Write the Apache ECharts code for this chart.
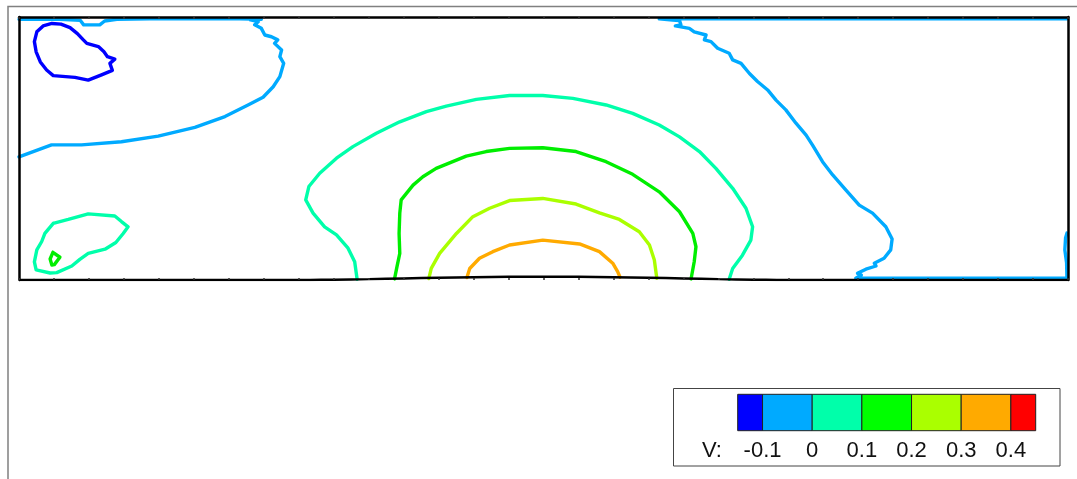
<!DOCTYPE html>
<html>
<head>
<meta charset="utf-8">
<script src="https://cdn.jsdelivr.net/npm/echarts@6/dist/echarts.min.js"></script>
<style>
html,body{margin:0;padding:0;background:#fff;}
#chart{width:1077px;height:479px;}
</style>
</head>
<body>
<div id="chart"></div>
<script>
// ---- data (x along the wall, y normal to it) ----
const levels = [-0.1, 0, 0.1, 0.2, 0.3, 0.4];
const tickLabels = ['-0.1', '0', '0.1', '0.2', '0.3', '0.4'];
const bandEdges = [-0.15, -0.1, 0, 0.1, 0.2, 0.3, 0.4, 0.45];
const bandColors = ['#0000ff', '#00aaff', '#00ffaa', '#00ff00', '#aaff00', '#ffaa00', '#ff0000'];

// wall (bottom boundary with bump)
const wall = [[0,0],[8,0],[9,0.01],[10,0.025],[11,0.045],[12,0.065],[13,0.08],[14,0.09],[15,0.095],[16,0.09],[17,0.08],[18,0.065],[19,0.045],[20,0.025],[21,0.01],[22,0],[30,0]];

// level -0.1 (dark blue loop, upper left)
const cBlueLoop = [[0.51,7.09],[0.69,7.26],[0.94,7.33],[1.20,7.31],[1.46,7.21],[1.67,7.04],[1.84,6.86],[1.94,6.76],[2.27,6.67],[2.43,6.52],[2.53,6.38],[2.74,6.31],[2.60,6.19],[2.67,5.99],[2.36,5.86],[1.98,5.71],[1.60,5.79],[0.98,5.84],[0.79,6.00],[0.61,6.23],[0.49,6.52],[0.44,6.81],[0.51,7.09]];

// level 0 (light blue), left part
const cZeroLeft = [[0,3.52],[0.93,3.86],[1.79,3.86],[2.93,3.95],[3.98,4.11],[5.03,4.36],[5.89,4.67],[6.55,5.00],[6.98,5.22],[7.27,5.52],[7.46,5.81],[7.57,6.19],[7.46,6.38],[7.51,6.57],[7.31,6.76],[7.40,6.86],[7.22,6.95],[7.03,7.00],[6.93,7.19],[6.74,7.29],[6.84,7.38],[6.62,7.43],[6.93,7.45],[6.31,7.46],[4.74,7.46],[3.74,7.46],[2.80,7.45],[2.45,7.40],[2.31,7.29],[1.85,7.29],[1.75,7.42],[1.17,7.45],[0,7.45]];

// level 0 (light blue), right part
const cZeroRight = [[29.97,7.46],[18.31,7.46],[18.69,7.43],[18.89,7.41],[18.93,7.29],[18.77,7.26],[19.17,7.19],[19.31,7.09],[19.65,7.00],[19.60,6.86],[19.79,6.81],[19.98,6.62],[20.31,6.48],[20.41,6.29],[20.65,6.19],[20.89,5.90],[21.12,5.67],[21.41,5.43],[21.65,5.14],[21.93,4.86],[22.22,4.48],[22.51,4.14],[22.69,3.86],[22.98,3.38],[23.27,3.00],[23.65,2.57],[24.03,2.14],[24.41,1.91],[24.79,1.52],[24.97,1.17],[24.93,0.86],[24.74,0.62],[24.46,0.48],[24.51,0.40],[24.22,0.31],[23.98,0.19],[24.09,0.14],[23.93,0.05],[29.97,0.05],[29.96,0.49],[29.91,0.86],[29.93,1.20],[29.97,1.34]];

// level 0.1 (teal)
const cTealArc = [[9.67,0.02],[9.60,0.52],[9.41,0.91],[9.08,1.29],[8.74,1.52],[8.41,1.91],[8.20,2.29],[8.29,2.67],[8.60,3.05],[9.08,3.48],[9.55,3.81],[10.22,4.19],[10.89,4.52],[11.65,4.81],[12.22,4.97],[13.08,5.16],[14.03,5.27],[14.98,5.27],[15.84,5.19],[16.79,5.00],[17.55,4.76],[18.31,4.43],[18.89,4.09],[19.46,3.67],[19.93,3.19],[20.41,2.62],[20.79,2.05],[20.98,1.52],[20.93,1.14],[20.69,0.71],[20.41,0.33],[20.31,0.02]];
const cTealLoop = [[0.98,1.62],[1.41,1.73],[1.98,1.89],[2.74,1.83],[2.93,1.67],[3.12,1.52],[2.98,1.33],[2.77,1.07],[2.46,0.88],[1.98,0.76],[1.74,0.59],[1.51,0.40],[1.08,0.21],[0.89,0.20],[0.49,0.29],[0.44,0.52],[0.51,0.86],[0.65,1.10],[0.74,1.33],[0.98,1.62]];

// level 0.2 (green)
const cGreenArc = [[10.74,0.03],[10.81,0.38],[10.89,0.76],[10.87,1.33],[10.89,1.91],[10.93,2.29],[11.27,2.71],[11.55,2.95],[11.93,3.19],[12.79,3.54],[13.36,3.67],[14.03,3.76],[14.98,3.78],[15.93,3.67],[16.79,3.38],[17.55,3.02],[18.31,2.52],[18.89,1.95],[19.27,1.33],[19.36,0.95],[19.31,0.52],[19.22,0.03]];
const cGreenLoop = [[0.97,0.79],[1.17,0.65],[1.01,0.44],[0.94,0.43],[0.89,0.60],[0.97,0.79]];

// level 0.3 (yellow-green)
const cYellowArc = [[11.72,0.04],[11.79,0.33],[12.03,0.76],[12.51,1.33],[12.98,1.81],[13.46,2.05],[14.03,2.27],[14.98,2.33],[15.93,2.17],[16.60,1.92],[17.17,1.73],[17.74,1.38],[18.03,1.00],[18.17,0.57],[18.24,0.05]];

// level 0.4 (orange)
const cOrangeArc = [[12.81,0.07],[12.89,0.33],[13.17,0.62],[13.55,0.81],[14.03,1.00],[14.98,1.14],[16.03,1.03],[16.60,0.81],[16.98,0.48],[17.12,0.24],[17.19,0.08]];

// ---- chart ----
const contours = [
  {d: cBlueLoop, c: bandColors[0]},
  {d: cZeroLeft, c: bandColors[1]},
  {d: cZeroRight, c: bandColors[1]},
  {d: cTealArc, c: bandColors[2]},
  {d: cTealLoop, c: bandColors[2]},
  {d: cGreenArc, c: '#00ee00'},
  {d: cGreenLoop, c: '#00ee00'},
  {d: cYellowArc, c: bandColors[4]},
  {d: cOrangeArc, c: bandColors[5]}
];

const series = contours.map(o => ({
  type: 'line', xAxisIndex: 0, yAxisIndex: 0, data: o.d, showSymbol: false,
  lineStyle: {color: o.c, width: 3.4, cap: 'round', join: 'round'}, z: 1, silent: true
}));
series.push({
  type: 'line', xAxisIndex: 0, yAxisIndex: 0, data: wall, showSymbol: false, smooth: true,
  lineStyle: {color: '#000', width: 2.5}, z: 5, silent: true
});
const bandData = bandColors.map((c, i) => [bandEdges[i], bandEdges[i + 1], i]);
series.push({
  type: 'custom', xAxisIndex: 2, yAxisIndex: 2, data: bandData, silent: true,
  renderItem: function (params, api) {
    const p0 = api.coord([api.value(0), 1]);
    const p1 = api.coord([api.value(1), 0]);
    return {type: 'rect', shape: {x: p0[0], y: p0[1], width: p1[0] - p0[0], height: p1[1] - p0[1]},
      style: {fill: bandColors[api.value(2)], stroke: '#222', lineWidth: 1}};
  }
});

const chart = echarts.init(document.getElementById('chart'), null, {renderer: 'canvas'});
chart.setOption({
  animation: false,
  backgroundColor: '#fff',
  grid: [
    {left: 19, top: 17, width: 1049, height: 263},
    {left: 737.7, top: 394.3, width: 298, height: 36.4}
  ],
  xAxis: [
    {gridIndex: 0, type: 'value', min: 0, max: 30, interval: 1, position: 'bottom',
      axisLine: {show: false, onZero: false}, axisTick: {show: true, inside: true, length: 2, lineStyle: {color: '#333', width: 1.5}},
      axisLabel: {show: false}, splitLine: {show: false}, z: 6},
    {gridIndex: 0, type: 'value', min: 0, max: 30, interval: 1, position: 'top',
      axisLine: {show: true, onZero: false, lineStyle: {color: '#000', width: 2.5}},
      axisTick: {show: true, inside: true, length: 2, lineStyle: {color: '#333', width: 1.5}},
      axisLabel: {show: false}, splitLine: {show: false}, z: 6},
    {gridIndex: 1, type: 'value', min: -0.15, max: 0.45,
      axisLine: {show: false, onZero: false}, axisTick: {show: false}, splitLine: {show: false},
      axisLabel: {show: true, customValues: levels, margin: 9,
        formatter: v => { const i = levels.findIndex(l => Math.abs(l - v) < 1e-9); return i >= 0 ? tickLabels[i] : ''; },
        fontFamily: 'Liberation Sans, Arial, sans-serif', fontSize: 22, color: '#111'}}
  ],
  yAxis: [
    {gridIndex: 0, type: 'value', min: 0, max: 7.514, position: 'left',
      axisLine: {show: true, onZero: false, lineStyle: {color: '#000', width: 2.5}}, axisTick: {show: false},
      axisLabel: {show: false}, splitLine: {show: false}, z: 6},
    {gridIndex: 0, type: 'value', min: 0, max: 7.514, position: 'right',
      axisLine: {show: true, onZero: false, lineStyle: {color: '#000', width: 2.5}}, axisTick: {show: false},
      axisLabel: {show: false}, splitLine: {show: false}, z: 6},
    {gridIndex: 1, type: 'value', min: 0, max: 1, show: false}
  ],
  graphic: [
    {type: 'rect', z: -10, silent: true, shape: {x: 8, y: 6.5, width: 1200, height: 600},
      style: {fill: 'none', stroke: '#808080', lineWidth: 1.5}},
    {type: 'rect', z: -10, silent: true, shape: {x: 673.5, y: 388.5, width: 386.5, height: 77.5},
      style: {fill: '#fff', stroke: '#444', lineWidth: 1}},
    {type: 'text', z: 10, silent: true, left: 702, top: 440,
      style: {text: 'V:', font: '22px "Liberation Sans", Arial, sans-serif', fill: '#111'}}
  ],
  series: series
});
</script>
</body>
</html>
